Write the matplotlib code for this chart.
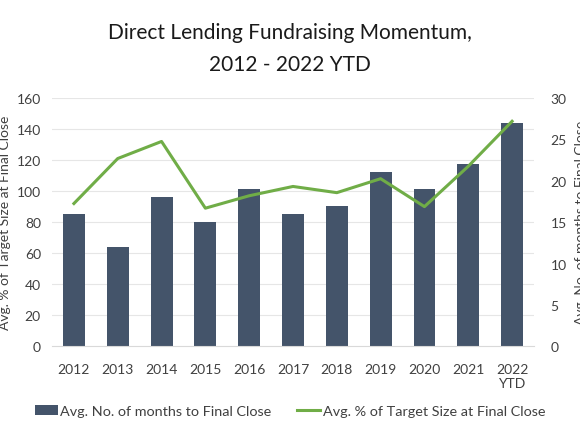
import matplotlib.pyplot as plt

years = ['2012', '2013', '2014', '2015', '2016', '2017', '2018', '2019', '2020', '2021', '2022\nYTD']
months = [16, 12, 18, 15, 19, 16, 17, 21, 19, 22, 27]
pct_target = [92, 121, 132, 89, 97, 103, 99, 108, 90, 116, 145]

plt.rcParams['font.family'] = ['Lato', 'DejaVu Sans']
txt = '#404040'

fig = plt.figure(figsize=(5.8, 4.35), dpi=100)
ax = fig.add_axes([52/580, 1-347.3/435, (534-52)/580, (347.3-99)/435])
ax2 = ax.twinx()

x = list(range(len(years)))
ax2.bar(x, months, width=0.5, color='#44546A', label='Avg. No. of months to Final Close', zorder=2)
ax.plot(x, pct_target, color='#70AD47', lw=2.2, label='Avg. % of Target Size at Final Close', zorder=3)

# line on top of bars
ax.set_zorder(ax2.get_zorder() + 1)
ax.patch.set_visible(False)

ax.set_ylim(0, 160)
ax.set_yticks(range(0, 161, 20))
ax2.set_ylim(0, 30)
ax2.set_yticks(range(0, 31, 5))
ax.set_xlim(-0.5, len(years) - 0.5)
ax.set_xticks(x)
ax.set_xticklabels(years)

# grid behind bars
for v in range(20, 161, 20):
    ax2.axhline(v * 30 / 160, color='#e6e6e6', lw=0.8, zorder=0)

for a in (ax, ax2):
    for s in a.spines.values():
        s.set_visible(False)
    a.tick_params(length=0, colors=txt, labelsize=10)
ax2.spines['bottom'].set_visible(True)
ax2.spines['bottom'].set_color('#d9d9d9')
ax.tick_params(axis='y', pad=8)
ax2.tick_params(axis='y', pad=12)
ax.tick_params(axis='x', pad=12)

ax.set_ylabel('Avg. % of Target Size at Final Close', color=txt, fontsize=10, labelpad=4)
ax2.set_ylabel('Avg. No. of months to Final Close', color=txt, fontsize=10, labelpad=6)

fig.suptitle('Direct Lending Fundraising Momentum,\n2012 - 2022 YTD', y=1-23/435, va='top',
             fontsize=15, color='#1a1a1a', linespacing=1.75)

h1, l1 = ax2.get_legend_handles_labels()
h2, l2 = ax.get_legend_handles_labels()
fig.legend(h1 + h2, l1 + l2, loc='center', bbox_to_anchor=(0.5, 1-412/435), ncol=2, frameon=False,
           fontsize=10.4, labelcolor=txt, handlelength=1.6, handletextpad=0.15, columnspacing=1.8)

fig.savefig('out.png', dpi=100)
